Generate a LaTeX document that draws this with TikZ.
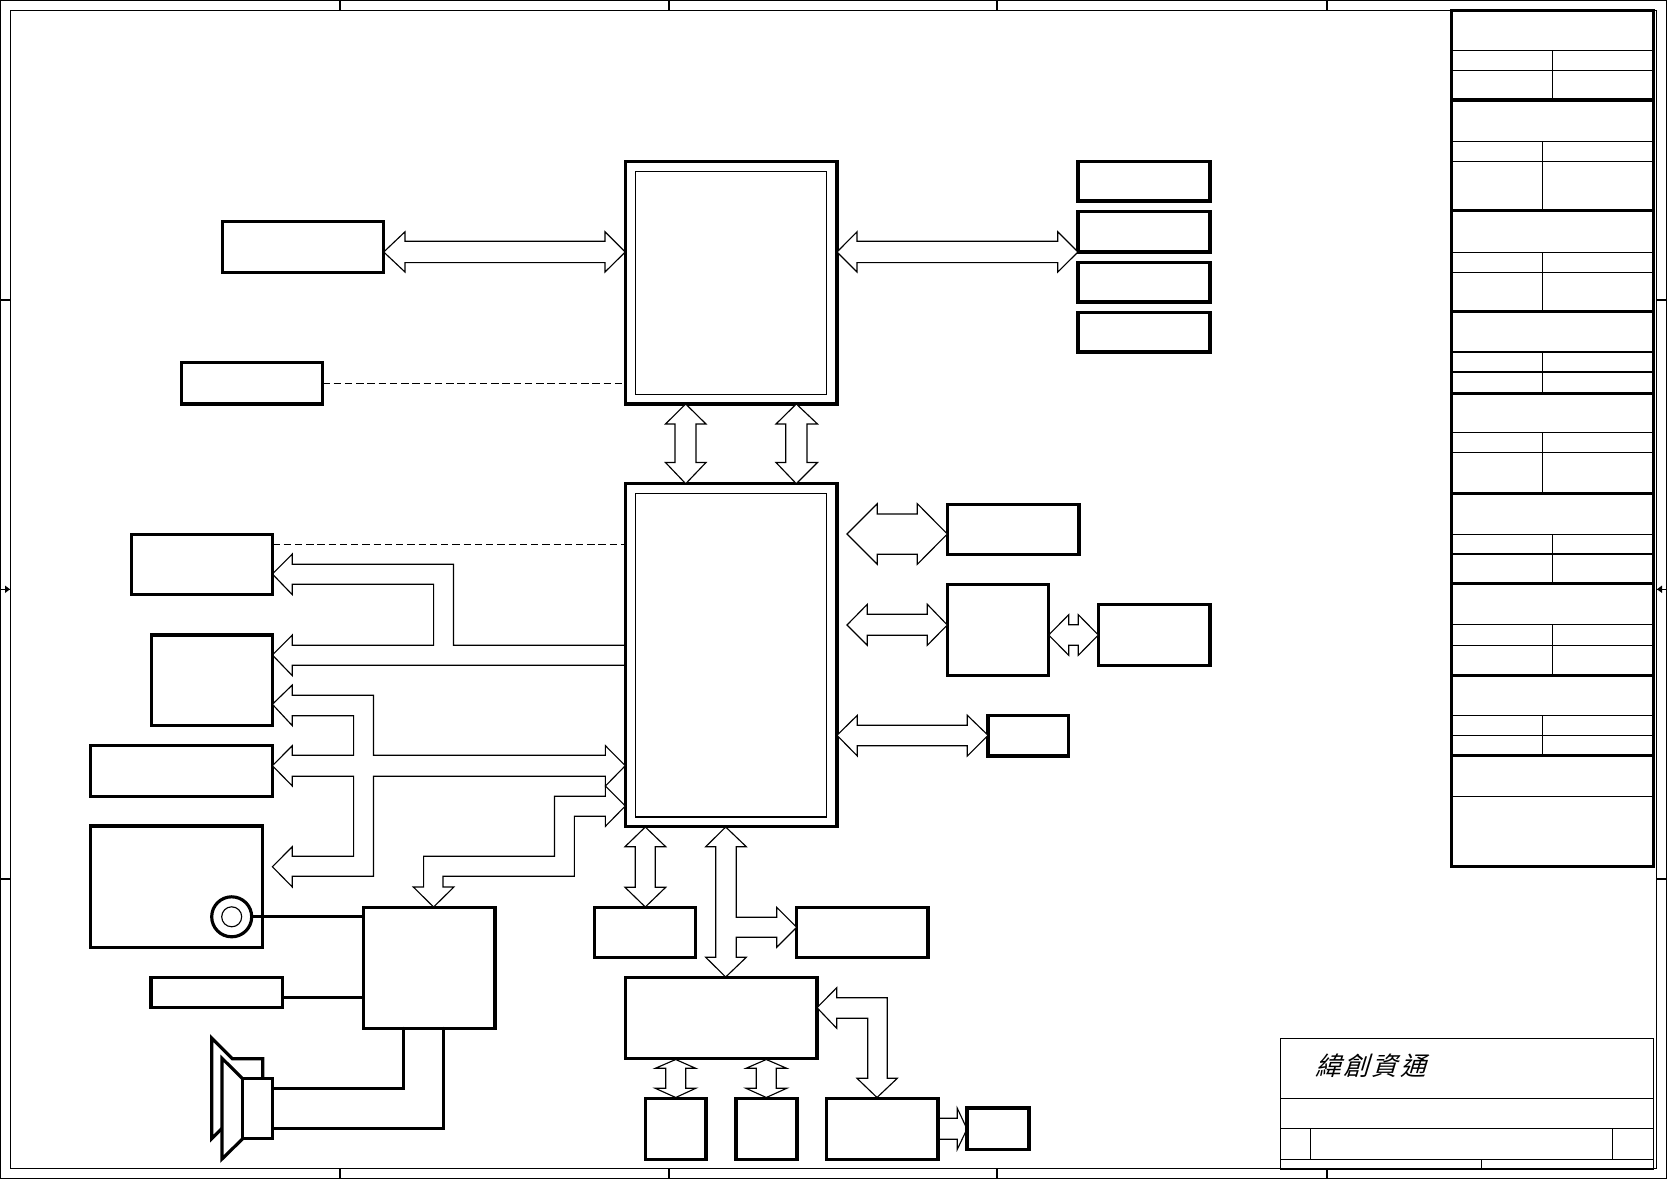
\documentclass[tikz,border=0pt]{standalone}
\usepackage{fontspec}
\newfontfamily\cjk[FakeSlant=0.3]{Noto Sans CJK TC}
\newcommand{\bx}[6][hbox]{%
  \node[#1,minimum width={(#5-#3)*0.02cm},minimum height={(#6-#4)*0.02cm}] (#2) at ({(#3+#5)/2},{(#4+#6)/2}) {};}
\tikzset{
  hbox/.style={draw,rectangle,line width=1.8pt,inner sep=0pt,outer sep=0pt,fill=white},
  ibox/.style={draw,rectangle,line width=0.65pt,inner sep=0pt,outer sep=0pt},
  tbox/.style={draw,rectangle,line width=0.65pt,inner sep=0pt,outer sep=0pt},
  bus/.style={draw,line width=0.65pt,fill=white,line join=miter,miter limit=20},
  thin line/.style={line width=0.65pt},
  heavy/.style={line width=1.8pt},
  thick wire/.style={line width=1.8pt,line cap=round},
  dash wire/.style={line width=0.7pt,dash pattern=on 4.2pt off 2.2pt},
  tip mark/.style={fill=black,draw=none}
}
\begin{document}
\begin{tikzpicture}[x=0.02cm,y=-0.02cm]
\useasboundingbox (0,0) rectangle (1667,1179);
% frame
\bx[tbox]{outerframe}{0.5}{0.5}{1666.5}{1178.5}
\bx[tbox]{innerframe}{10.5}{10.5}{1656.2}{1168.5}
\foreach \x in {340,669,997,1327}{
  \draw[thin line] (\x,0.5) -- (\x,10.5);
  \draw[thin line] (\x,1168.5) -- (\x,1178.5);}
\foreach \y in {300,879}{
  \draw[thin line] (0.5,\y) -- (10.5,\y);
  \draw[thin line] (1656.2,\y) -- (1666.5,\y);}
\draw[thin line] (0.5,589.3) -- (10.5,589.3);
\fill[tip mark] (10,589.3) -- (5,585.5) -- (5,593) -- cycle;
\draw[thin line] (1656.2,589.3) -- (1666.5,589.3);
\fill[tip mark] (1657,589.3) -- (1662,585.5) -- (1662,593) -- cycle;

% boxes
\bx{ram}{222.2}{221.5}{383.7}{272.7}
\bx{clk}{181.2}{362.5}{322.5}{404}
\bx{lcd}{131.2}{534.3}{272.4}{594.7}
\bx{crt}{151.5}{635}{272.4}{725.7}
\bx{tvo}{90.3}{745.7}{272.4}{796.3}
\bx{dock}{90.3}{826}{262.5}{947.3}
\bx{codec}{363.4}{907.7}{495}{1028.5}
\bx{mic}{151}{977.3}{282.7}{1007.7}
\bx{cpu}{625.3}{161.6}{837}{404}
\bx[ibox]{cpuin}{635.3}{171.5}{826.7}{394.5}
\bx{nb}{625.3}{483.7}{837}{826.5}
\bx[ibox]{nbin}{635.3}{493.3}{826.7}{817}
\bx{dd}{1078}{161.6}{1210}{201}
\bx{de}{1078}{211.6}{1210}{252}
\bx{df}{1078}{262.6}{1210}{302}
\bx{dg}{1078}{312.6}{1210}{352}
\bx{lan}{947.3}{504.3}{1079}{554.3}
\bx{cb}{947.3}{584.3}{1048.7}{675.7}
\bx{pcmcia}{1098.3}{604.3}{1210}{665.3}
\bx{mpci}{988}{715.3}{1068.7}{756}
\bx{hdd}{594.3}{907.3}{695.7}{957.3}
\bx{odd}{796.7}{907.3}{928}{957.3}
\bx{sio}{625.3}{977.3}{817}{1058.7}
\bx{kbc}{645.5}{1098.5}{706}{1159.3}
\bx{tpad}{736}{1098.5}{797}{1159.3}
\bx{flash}{826.5}{1098.5}{938}{1159.3}
\bx{fan}{967}{1108}{1029}{1149.7}

% block arrows
\path[bus] (ram.east |- 0,252) -- (405,231.8) -- (405,241.3) -- (605,241.3) -- (605,231.8) -- (cpu.west |- 0,252) -- (605,272) -- (605,262.6) -- (405,262.6) -- (405,272) -- cycle;
\path[bus] (cpu.east |- 0,252) -- (857,231.8) -- (857,241.3) -- (1057.8,241.3) -- (1057.8,231.8) -- (de.west |- 0,252) -- (1057.8,272) -- (1057.8,262.6) -- (857,262.6) -- (857,272) -- cycle;
\path[bus] (685.7,404) -- (706,424) -- (696,424) -- (696,462.5) -- (706,462.5) -- (685.7,483.7) -- (665.5,462.5) -- (675,462.5) -- (675,424) -- (665.5,424) -- cycle;
\path[bus] (796.3,404) -- (817.5,424) -- (807,424) -- (807,462.5) -- (817.5,462.5) -- (796.3,483.7) -- (776,462.5) -- (785.7,462.5) -- (785.7,424) -- (776,424) -- cycle;
% north bridge to LCD and CRT
\draw[thin line] (nb.west |- 0,645.3) -- (453.5,645.3) -- (453.5,564.3) -- (292.3,564.3) -- (292.3,554) -- (lcd.east |- 0,574) -- (292.3,594.7) -- (292.3,584.3) -- (433.6,584.3) -- (433.6,645.3) -- (292.3,645.3) -- (292.3,635) -- (crt.east |- 0,655) -- (292.3,675.7) -- (292.3,665.3) -- (nb.west |- 0,665.3);
% video bus
\path[bus] (crt.east |- 0,704.3) -- (292.3,685) -- (292.3,695.3) -- (373.5,695.3) -- (373.5,755.3) -- (605.4,755.3) -- (605.4,745.7) -- (nb.west |- 0,765.7) -- (605.4,786) -- (605.4,776.3) -- (373.5,776.3) -- (373.5,876.3) -- (292.3,876.3) -- (292.3,887) -- (272.4,866.7) -- (292.3,846.7) -- (292.3,856.3) -- (353.6,856.3) -- (353.6,776.3) -- (292.3,776.3) -- (292.3,786) -- (tvo.east |- 0,765.7) -- (292.3,745.7) -- (292.3,755.3) -- (353.6,755.3) -- (353.6,715.7) -- (292.3,715.7) -- (292.3,725.7) -- cycle;
% audio
\path[bus] (nb.west |- 0,806) -- (605.4,786) -- (605.4,796.3) -- (554.5,796.3) -- (554.5,856.3) -- (423.6,856.3) -- (423.6,887) -- (413.3,887) -- (433.6,907) -- (453.9,887) -- (443,887) -- (443,876.3) -- (574.4,876.3) -- (574.4,816.3) -- (605.4,816.3) -- (605.4,826.3) -- cycle;
% right side
\path[bus] (847,534) -- (877.3,503.7) -- (877.3,514) -- (917.3,514) -- (917.3,503.7) -- (lan.west |- 0,534) -- (917.3,564.3) -- (917.3,554.3) -- (877.3,554.3) -- (877.3,564.3) -- cycle;
\path[bus] (847,625) -- (867.3,604.3) -- (867.3,614.3) -- (927.3,614.3) -- (927.3,604.3) -- (cb.west |- 0,625) -- (927.3,645.3) -- (927.3,635.3) -- (867.3,635.3) -- (867.3,645.3) -- cycle;
\path[bus] (cb.east |- 0,635) -- (1068.7,614.7) -- (1068.7,624.7) -- (1078.3,624.7) -- (1078.3,614.7) -- (pcmcia.west |- 0,635) -- (1078.3,655.3) -- (1078.3,645.3) -- (1068.7,645.3) -- (1068.7,655.3) -- cycle;
\path[bus] (nb.east |- 0,735.3) -- (857.3,715.3) -- (857.3,725.3) -- (967.3,725.3) -- (967.3,715.3) -- (mpci.west |- 0,735.3) -- (967.3,756) -- (967.3,745.7) -- (857.3,745.7) -- (857.3,756) -- cycle;
% bottom
\path[bus] (645.3,827) -- (665.7,846.7) -- (655.3,846.7) -- (655.3,887.3) -- (665.7,887.3) -- (645.3,907) -- (625,887.3) -- (635.3,887.3) -- (635.3,846.7) -- (625,846.7) -- cycle;
\path[bus] (725.7,827) -- (746.3,846.7) -- (736.3,846.7) -- (736.3,917.3) -- (776.7,917.3) -- (776.7,907.3) -- (odd.west |- 0,927.3) -- (776.7,947.3) -- (776.7,937.3) -- (736.3,937.3) -- (736.3,957.3) -- (746.3,957.3) -- (725.7,977) -- (705.7,957.3) -- (715.7,957.3) -- (715.7,846.7) -- (705.7,846.7) -- cycle;
\path[bus] (sio.east |- 0,1007.7) -- (836.7,987.7) -- (836.7,997.7) -- (887.3,997.7) -- (887.3,1078.3) -- (897.3,1078.3) -- (877,1097.5) -- (857,1078.3) -- (867.7,1078.3) -- (867.7,1018.3) -- (836.7,1018.3) -- (836.7,1028.3) -- cycle;
\path[bus] (675.7,1059.5) -- (695.7,1068.3) -- (685.7,1068.3) -- (685.7,1088.3) -- (695.7,1088.3) -- (675.7,1097.5) -- (655.3,1088.3) -- (665.7,1088.3) -- (665.7,1068.3) -- (655.3,1068.3) -- cycle;
\path[bus] (766.3,1059.5) -- (786.7,1068.3) -- (776.3,1068.3) -- (776.3,1088.3) -- (786.7,1088.3) -- (766.3,1097.5) -- (746,1088.3) -- (756.3,1088.3) -- (756.3,1068.3) -- (746,1068.3) -- cycle;
\draw[thin line] (flash.east |- 0,1118.3) -- (957.3,1118.3) -- (957.3,1108.3) -- (fan.west |- 0,1129) -- (957.3,1149.3) -- (957.3,1139.3) -- (flash.east |- 0,1139.3);

% dashed signals
\coordinate (clkd) at (clk.east |- 0,383.5);
\coordinate (lcdd) at (lcd.east |- 0,544.3);
\draw[dash wire] (clkd) -- (clkd -| cpu.west);
\draw[dash wire] (lcdd) -- (lcdd -| nb.west);

% antenna jack and wires
\node[draw,circle,line width=1.8pt,minimum size=0.8cm,inner sep=0pt,outer sep=0pt,fill=white] (jack) at (231.7,916.8) {};
\node[draw,circle,line width=0.65pt,minimum size=0.4cm,inner sep=0pt,outer sep=0pt] (jackin) at (231.7,916.8) {};
\draw[thick wire] (jack.east) -- (jack.east -| codec.west);
\coordinate (micw) at (mic.east |- 0,997.3);
\draw[thick wire] (micw) -- (micw -| codec.west);

% speaker
\draw[heavy,line join=miter] (222,1128.3) -- (211.7,1138.7) -- (211.7,1038) -- (232.3,1058.7) -- (262.7,1058.7) -- (262.7,1078.7);
\draw[heavy,line join=miter,fill=white] (242.7,1078.7) -- (222,1058.3) -- (222,1159) -- (242.7,1138.7) -- cycle;
\bx{spk}{242.7}{1078.7}{272.7}{1138.7}
\coordinate (spka) at (spk.east |- 0,1088.3);
\coordinate (spkb) at (spk.east |- 0,1128.3);
\coordinate (cdca) at (codec.south -| 403.3,0);
\coordinate (cdcb) at (codec.south -| 443.3,0);
\draw[thick wire] (spka) -| (cdca);
\draw[thick wire] (spkb) -| (cdcb);

% side table
\bx{side}{1451.3}{10.7}{1653.3}{866.3}
\foreach \y in {100,210.7,311.5,393.3,493.3,583.8,675.3,755.8}
  \draw[heavy] (side.west |- 0,\y) -- (side.east |- 0,\y);
\foreach \a/\b/\t/\e/\v in {50.3/70.3/50.3/100/1552.3,141.3/161.3/141.3/210.7/1542.3,252.3/272.3/252.3/311.5/1542.3,352/372/352/393.3/1542.3,432.7/452.9/432.7/493.3/1542.3,534.7/554/534.7/583.8/1552.3,624.3/645.3/624.3/675.3/1552.3,715.7/735.3/715.7/755.8/1542.3}{
  \draw[thin line] (side.west |- 0,\a) -- (side.east |- 0,\a);
  \draw[thin line] (side.west |- 0,\b) -- (side.east |- 0,\b);
  \draw[thin line] (\v,\t) -- (\v,\e);}
\draw[thin line] (side.west |- 0,796.3) -- (side.east |- 0,796.3);

% title block
\bx[tbox]{title}{1280.3}{1038.7}{1653.3}{1169}
\draw[thin line] (title.west |- 0,1098.3) -- (title.east |- 0,1098.3);
\draw[thin line] (title.west |- 0,1128.3) -- (title.east |- 0,1128.3);
\draw[thin line] (title.west |- 0,1159.3) -- (title.east |- 0,1159.3);
\draw[thin line] (1310.3,1128.3) -- (1310.3,1159.3);
\draw[thin line] (1612.3,1128.3) -- (1612.3,1159.3);
\draw[thin line] (1481.3,1159.3) -- (1481.3,1169);
\draw[line width=1pt] (title.south west) -- (title.south east);
\node[inner sep=0pt,anchor=west] (company) at (1315,1065.5) {\cjk\fontsize{14.6}{16}\selectfont 緯\hspace{1.5pt}創\hspace{1.5pt}資\hspace{1.5pt}通};
\end{tikzpicture}
\end{document}
